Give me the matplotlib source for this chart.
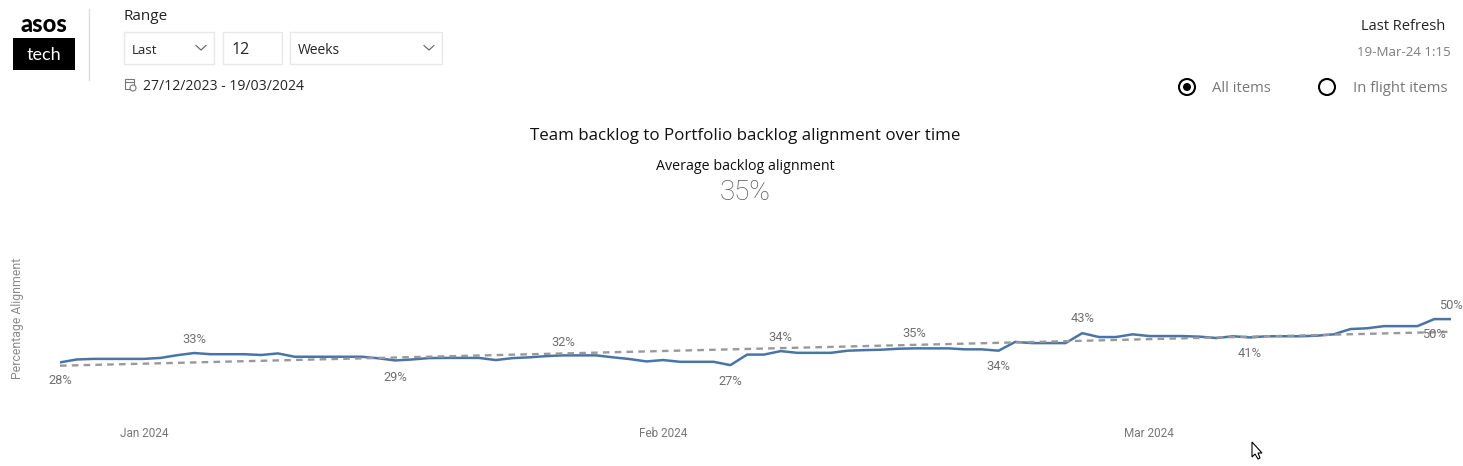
import matplotlib
matplotlib.use('Agg')
import numpy as np
import pandas as pd
import matplotlib.pyplot as plt
import matplotlib.dates as mdates
from matplotlib.patches import Rectangle, Circle, Polygon

W, H = 1463, 466
UI_FONT = 'Open Sans'
DIN_FONT = 'Roboto'

start_date = '2023-12-27'
alignment = [
    28.0, 29.5, 29.8, 29.8, 29.8, 29.8, 30.3, 31.7, 32.8, 32.2, 32.2, 32.2,
    31.8, 32.6, 30.9, 30.9, 30.9, 30.9, 30.9, 30.1, 29.0, 29.5, 30.2, 30.3,
    30.3, 30.3, 29.2, 30.2, 30.6, 31.2, 31.6, 31.6, 31.6, 30.6, 29.7, 28.5,
    29.2, 28.3, 28.3, 28.3, 26.6, 32.0, 32.0, 33.8, 32.9, 32.9, 32.9, 34.0,
    34.3, 34.5, 35.0, 35.2, 35.2, 35.2, 34.7, 34.7, 34.0, 38.5, 37.9, 37.9,
    37.9, 43.0, 41.0, 41.0, 42.4, 41.5, 41.5, 41.5, 41.2, 40.5, 41.4, 40.8,
    41.4, 41.4, 41.4, 41.7, 42.4, 45.1, 45.5, 46.6, 46.6, 46.6, 50.2, 50.2,
]
trend_ends = [26.3, 43.7]

# index into the series, label text, label offset in pixels (+ is up)
point_labels = [
    (0, '28%', -18), (8, '33%', 14), (20, '29%', -17), (30, '32%', 13),
    (40, '27%', -16), (43, '34%', 14), (51, '35%', 15), (56, '34%', -16),
    (61, '43%', 15), (71, '41%', -16), (82, '50%', -15), (83, '50%', 14),
]
month_ticks = ['2024-01-01', '2024-02-01', '2024-03-01']
month_labels = ['Jan 2024', 'Feb 2024', 'Mar 2024']

dates = pd.date_range(start_date, periods=len(alignment), freq='D')

fig = plt.figure(figsize=(W / 100, H / 100), dpi=100)

# chart area, pixel box worked out so 0-100% and first-last day land right
left, right, top, bottom = 60, 1451, 222, 417
ax = fig.add_axes([left / W, 1 - bottom / H, (right - left) / W, (bottom - top) / H])
ax.plot(dates, alignment, color='#4a74a8', lw=1.8, solid_joinstyle='round', zorder=2)
ax.plot([dates[0], dates[-1]], trend_ends, color='#999999', lw=1.7,
        dashes=(2.8, 2.2), zorder=3)
ax.set_xlim(dates[0], dates[-1])
ax.set_ylim(0, 100)
for s in ax.spines.values():
    s.set_visible(False)
ax.set_yticks([])
ax.set_xticks(pd.to_datetime(month_ticks))
ax.set_xticklabels(month_labels, fontsize=8.5, color='#777777', family=DIN_FONT)
ax.tick_params(axis='x', length=0, pad=7.5)
ax.patch.set_alpha(0)

for idx, txt, off in point_labels:
    ax.annotate(txt, (dates[idx], alignment[idx]), xytext=(0, off * 0.72),
                textcoords='offset points', ha='center', va='center',
                fontsize=9.3, color='#707070', family=DIN_FONT, annotation_clip=False)

# the report furniture around the chart, in pixel coordinates
ui = fig.add_axes([0, 0, 1, 1], zorder=-1)
ui.set_xlim(0, W)
ui.set_ylim(H, 0)
ui.axis('off')


def label(x, y, s, size, color='#252423', ha='left', **kw):
    ui.text(x, y, s, fontsize=size, color=color, ha=ha, va='center',
            family=kw.pop('family', UI_FONT), **kw)


def dropdown(x0, x1, text, size, chevron=True):
    ui.add_patch(Rectangle((x0, 32), x1 - x0, 32, fc='white', ec='#e8e8e8', lw=1))
    if chevron:
        cx = x1 - 13
        ui.plot([cx - 5, cx, cx + 5], [45.5, 50, 45.5], color='#605e5c', lw=0.8)
        label(x0 + 8, 50, text, size)
    else:
        label(x0 + 9, 50, text, size)


# logo
label(44, 24, 'asos', 17, color='black', ha='center', family='Lato', fontweight='black')
ui.add_patch(Rectangle((13, 38), 62, 32, fc='black', ec='none'))
label(44, 55, 'tech', 13, color='white', ha='center', family='Lato')
ui.plot([89, 89], [9, 80], color='#dddddd', lw=1)

# range slicer
label(123.5, 16, 'Range', 11)
dropdown(124, 214, 'Last', 9.5)
dropdown(223, 282, '12', 11.5, chevron=False)
dropdown(290, 442, 'Weeks', 10)

# calendar icon and dates
ui.add_patch(Rectangle((125, 79), 9, 10, fc='none', ec='#777777', lw=0.8))
ui.plot([125, 134], [82, 82], color='#777777', lw=0.8)
ui.add_patch(Circle((133, 88), 3, fc='white', ec='#777777', lw=0.8))
label(143, 86, '27/12/2023 - 19/03/2024', 10.1)

# last refresh
label(1403.5, 27, 'Last Refresh', 10.5, ha='center')
label(1403.5, 53, '19-Mar-24 1:15', 9.6, color='#7b7b7b', ha='center')

# radio buttons
ui.add_patch(Circle((1187, 87), 8, fc='white', ec='black', lw=1.5))
ui.add_patch(Circle((1187, 87), 4, fc='black', ec='none'))
label(1212, 89, 'All items', 10.6, color='#777777')
ui.add_patch(Circle((1327, 87), 8, fc='white', ec='black', lw=1.5))
label(1353, 89, 'In flight items', 10.7, color='#777777')

# headings
label(745.5, 136, 'Team backlog to Portfolio backlog alignment over time', 12.2, color='#111111', ha='center')
label(745.5, 166, 'Average backlog alignment', 10.3, color='#111111', ha='center')
label(745.5, 192, '35%', 20, color='#555555', ha='center', family='Roboto', fontweight='light')
label(18, 318, 'Percentage Alignment', 8.8, color='#8a8a8a', ha='center',
      rotation=90, family=DIN_FONT)

# mouse pointer left in the screenshot
ui.add_patch(Polygon([(1252, 442), (1252, 457), (1255, 454), (1258, 459),
                      (1260, 458), (1258, 453), (1262, 453)],
                     closed=True, fc='white', ec='black', lw=0.8))

fig.savefig('out.png', dpi=100, facecolor='white')
